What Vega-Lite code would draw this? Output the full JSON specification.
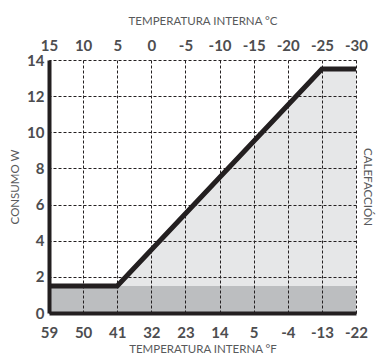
{
  "$schema": "https://vega.github.io/schema/vega-lite/v6.json",
  "width": 307,
  "height": 253,
  "autosize": "none",
  "padding": {"left": 49, "top": 60, "right": 22, "bottom": 44},
  "background": "white",
  "config": {
    "view": {"stroke": null},
    "font": "Lato",
    "axis": {
      "labelFont": "Lato",
      "labelFontWeight": "bold",
      "labelFontSize": 15,
      "labelColor": "#4d4d4f",
      "labelOverlap": false,
      "labelFlush": false,
      "labelBound": false,
      "titleFont": "Lato",
      "titleFontWeight": "normal",
      "titleFontSize": 11.5,
      "titleColor": "#58595b",
      "tickSize": 0,
      "gridColor": "#231f20",
      "gridDash": [3, 2],
      "gridWidth": 1,
      "gridOpacity": 1
    }
  },
  "datasets": {
    "curve": [
      {"c": 15, "w": 1.5},
      {"c": 5, "w": 1.5},
      {"c": -25, "w": 13.5},
      {"c": -30, "w": 13.5}
    ],
    "band": [
      {"c": 15, "w": 1.5},
      {"c": -30, "w": 1.5}
    ]
  },
  "layer": [
    {
      "data": {"name": "curve"},
      "mark": {"type": "area", "color": "#e6e7e8"},
      "encoding": {
        "x": {
          "field": "c", "type": "quantitative",
          "scale": {"domain": [-30, 15], "reverse": true, "nice": false},
          "axis": {
            "orient": "bottom",
            "title": "TEMPERATURA INTERNA °F",
            "titlePadding": 3,
            "values": [15, 10, 5, 0, -5, -10, -15, -20, -25, -30],
            "labelExpr": "'' + (datum.value * 9 / 5 + 32)",
            "labelPadding": 12,
            "domainColor": "#231f20",
            "domainWidth": 4,
            "grid": true,
            "zindex": 1
          }
        },
        "y": {
          "field": "w", "type": "quantitative",
          "scale": {"domain": [0, 14], "nice": false},
          "axis": {
            "orient": "left",
            "title": "CONSUMO W",
            "titlePadding": 6,
            "values": [0, 2, 4, 6, 8, 10, 12, 14],
            "labelPadding": 5,
            "domainColor": "#231f20",
            "domainWidth": 4,
            "grid": true,
            "zindex": 1
          }
        }
      }
    },
    {
      "data": {"name": "band"},
      "mark": {"type": "area", "color": "#bcbec0"},
      "encoding": {
        "x": {
          "field": "c", "type": "quantitative",
          "scale": {"domain": [-30, 15], "reverse": true, "nice": false},
          "axis": {
            "orient": "top",
            "title": "TEMPERATURA INTERNA °C",
            "titlePadding": 12,
            "values": [15, 10, 5, 0, -5, -10, -15, -20, -25, -30],
            "labelExpr": "'' + datum.value",
            "labelPadding": 7,
            "domain": false,
            "grid": false
          }
        },
        "y": {
          "field": "w", "type": "quantitative",
          "scale": {"domain": [0, 14], "nice": false},
          "axis": {
            "orient": "right",
            "title": "CALEFACCIÓN",
            "titleAngle": 90,
            "titlePadding": 5,
            "labels": false,
            "ticks": false,
            "domain": false,
            "grid": false
          }
        }
      }
    },
    {
      "data": {"name": "curve"},
      "mark": {"type": "line", "color": "#231f20", "strokeWidth": 5, "strokeJoin": "miter"},
      "encoding": {
        "x": {
          "field": "c", "type": "quantitative",
          "scale": {"domain": [-30, 15], "reverse": true, "nice": false},
          "axis": null
        },
        "y": {
          "field": "w", "type": "quantitative",
          "scale": {"domain": [0, 14], "nice": false},
          "axis": null
        }
      }
    }
  ],
  "resolve": {"scale": {"x": "independent", "y": "independent"}}
}
